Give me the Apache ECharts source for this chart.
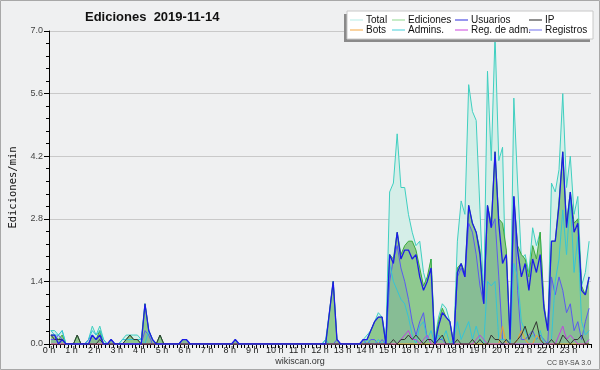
<!DOCTYPE html>
<html><head><meta charset="utf-8">
<script src="https://cdn.jsdelivr.net/npm/echarts@6/dist/echarts.min.js"></script>
<style>html,body{margin:0;padding:0;background:#eff0f1}#c{width:600px;height:370px}</style>
</head><body><div id="c"></div>
<script>
// 10-minute bins, 144 per day (values in ediciones/min)
const seriesNames = ['Total','Ediciones','Usuarios','IP','Bots','Admins.','Reg. de adm.','Registros'];
const yTicks = [0, 1.4, 2.8, 4.2, 5.6, 7.0];
const hourLabels = ['0 h','1 h','2 h','3 h','4 h','5 h','6 h','7 h','8 h','9 h','10 h','11 h','12 h','13 h','14 h','15 h','16 h','17 h','18 h','19 h','20 h','21 h','22 h','23 h'];

const total = [
0.3,0.3,0.2,0.3,0,0,0,0.2,0,0,0.1,0.4,
0.2,0.4,0.1,0,0.1,0,0,0.1,0.2,0.2,0.2,0.2,
0.1,0.9,0.3,0.1,0,0.2,0,0,0,0,0,0.1,
0.1,0,0,0,0,0,0,0,0,0,0,0,
0,0.1,0,0,0,0,0,0,0,0,0,0,
0,0,0,0,0,0,0,0,0,0,0,0,
0,0.1,0.7,1.4,0.1,0,0,0,0,0,0,0.1,
0.2,0.3,0.5,0.7,0.6,0.1,3.4,3.6,4.7,3.5,3.5,2.9,
2.5,2.2,2.3,1.6,1.3,1.9,0.1,0.6,0.9,0.8,0.5,0,
2.3,3.2,2.9,5.8,5.2,5.0,3.0,1.0,6.1,4.1,6.9,4.1,
4.4,0.8,0.1,5.5,3.6,1.9,2.0,1.6,2.6,2.2,2.5,0.8,
0.2,3.6,3.4,3.9,5.6,3.5,4.2,2.9,3.3,1.3,1.6,2.3];

const ediciones = [
0.2,0.2,0.1,0.2,0,0,0,0.2,0,0,0,0.2,
0.1,0.3,0,0,0.1,0,0,0,0.1,0.2,0.1,0.1,
0,0.9,0.3,0.1,0,0.2,0,0,0,0,0,0.1,
0.1,0,0,0,0,0,0,0,0,0,0,0,
0,0.1,0,0,0,0,0,0,0,0,0,0,
0,0,0,0,0,0,0,0,0,0,0,0,
0,0,0.7,1.4,0.1,0,0,0,0,0,0,0.1,
0.1,0.3,0.5,0.6,0.6,0,2.0,1.9,2.5,2.0,2.2,2.3,
2.3,2.1,1.7,1.3,1.5,1.9,0,0.5,0.8,0.6,0.5,0,
1.7,1.8,1.6,3.1,2.7,2.5,2.1,0.9,3.1,2.7,4.3,2.8,
2.7,2.1,0.1,3.3,2.2,2.0,1.9,1.5,2.2,1.9,2.5,0.9,
0.3,2.3,2.3,3.2,4.3,2.7,3.4,2.7,2.8,1.3,1.1,1.5];

const usuarios = [
0.2,0.2,0,0.1,0,0,0,0,0,0,0,0.2,
0.1,0.2,0,0,0.1,0,0,0,0,0,0,0,
0,0.9,0.3,0.1,0,0,0,0,0,0,0,0.1,
0.1,0,0,0,0,0,0,0,0,0,0,0,
0,0.1,0,0,0,0,0,0,0,0,0,0,
0,0,0,0,0,0,0,0,0,0,0,0,
0,0,0.7,1.4,0.1,0,0,0,0,0,0,0.1,
0.1,0.3,0.5,0.6,0.6,0,2.0,1.8,2.5,1.9,2.1,2.1,
1.9,2.0,1.5,1.2,1.4,1.7,0,0.4,0.7,0.6,0.5,0,
1.6,1.8,1.5,3.1,2.7,2.5,2.0,0.9,3.1,2.6,4.3,2.7,
1.8,2.0,0.1,3.3,2.1,1.5,1.8,1.2,1.9,1.6,2.0,0.8,
0.3,2.3,2.3,3.1,4.3,2.6,3.4,2.5,2.7,1.2,1.1,1.5];

const ip = [
0.2,0.1,0.1,0.1,0,0,0,0.2,0,0,0,0,
0,0.1,0,0,0,0,0,0,0.1,0.2,0.1,0.1,
0,0,0,0,0,0.2,0,0,0,0,0,0,
0,0,0,0,0,0,0,0,0,0,0,0,
0,0,0,0,0,0,0,0,0,0,0,0,
0,0,0,0,0,0,0,0,0,0,0,0,
0,0,0,0,0,0,0,0,0,0,0,0,
0,0,0,0,0,0,0,0.1,0,0.1,0.1,0.2,
0.1,0.2,0.1,0,0.1,0.1,0,0.1,0.2,0,0,0,
0.1,0,0,0,0.1,0,0.1,0,0,0.2,0.1,0.1,
0,0.1,0,0,0.1,0.2,0.4,0.1,0.3,0.5,0.1,0,
0,0.1,0,0,0.2,0.1,0,0.1,0.1,0.2,0,0];

const bots = [
0,0,0,0,0,0,0,0,0,0,0,0,
0,0,0,0,0,0,0,0,0,0,0,0,
0,0,0,0,0,0,0,0,0,0,0,0,
0,0,0,0,0,0,0,0,0,0,0,0,
0,0,0,0,0,0,0,0,0,0,0,0,
0,0,0,0,0,0,0,0,0,0,0,0,
0,0,0,0,0,0,0,0,0,0,0,0,
0,0,0,0,0,0,0,0,0,0,0,0,
0,0,0,0,0,0,0,0,0,0,0,0,
0,0,0,0,0,0,0,0,0,0,0,0,
0.4,0,0,0,0.1,0.3,0.1,0,0,0.2,0.1,0,
0,0,0,0,0,0,0,0,0,0,0,0];

const admins = [
0.3,0.2,0.2,0.3,0,0,0,0,0,0,0.1,0.3,
0.2,0.3,0.1,0,0,0,0,0.1,0.1,0.1,0.1,0.1,
0.1,0,0.3,0.1,0,0,0,0,0,0,0,0,
0,0,0,0,0,0,0,0,0,0,0,0,
0,0,0,0,0,0,0,0,0,0,0,0,
0,0,0,0,0,0,0,0,0,0,0,0,
0,0.1,0,0,0,0,0,0,0,0,0,0,
0.1,0,0,0.1,0,0.1,1.8,1.4,1.2,1.0,0.9,0.6,
0.2,0,0.4,0.5,0.1,0.3,0,0.2,0.1,0.3,0,0.1,
0.5,0.1,0.3,0.5,0.1,0.4,0.1,0,1.4,1.3,1.4,0.1,
0.1,0.1,0,1.8,1.5,0.5,0.3,0.1,0.2,0.1,0.3,0,
0,0.1,1.4,1.9,3.0,2.0,3.3,1.6,2.4,0.5,0.2,0.3];

const regAdm = [
0,0,0,0,0,0,0,0,0,0,0,0,
0,0,0,0,0,0,0,0,0,0,0,0,
0,0,0,0,0,0,0,0,0,0,0,0,
0,0,0,0,0,0,0,0,0,0,0,0,
0,0,0,0,0,0,0,0,0,0,0,0,
0,0,0,0,0,0,0,0,0,0,0,0,
0,0,0,0,0,0,0,0,0,0,0,0,
0,0,0,0,0,0,0,0,0,0.1,0.2,0.3,
0.1,0.1,0,0.1,0.2,0,0,0,0,0,0,0,
0,0,0,0,0,0.1,0.2,0.1,0,0,0,0,
0,0,0,0,0,0,0,0,0,0,0,0,
0,0,0,0.2,0.4,0.1,0.2,0.1,0,0,0,0.1];

const registros = [
0.1,0.1,0.2,0.1,0,0,0,0,0,0,0.1,0.2,
0.1,0.2,0,0,0.1,0,0,0,0,0,0,0,
0,0.3,0.2,0,0,0,0,0,0,0,0,0.1,
0.1,0,0,0,0,0,0,0,0,0,0,0,
0,0.1,0,0,0,0,0,0,0,0,0,0,
0,0,0,0,0,0,0,0,0,0,0,0,
0,0,0,0,0.1,0,0,0,0,0,0,0.1,
0,0.1,0.1,0,0.1,0,1.4,1.9,2.2,1.7,1.4,1.0,
0.5,0.2,0.5,0.7,0.1,0.1,0,0.1,0.1,0,0,0,
1.5,1.7,1.5,2.7,2.5,2.0,1.3,0.9,3.0,2.6,2.8,1.5,
0.1,0.1,0,3.3,1.2,0.1,0.1,0.2,0.3,0.1,0.2,0.1,
0,1.5,1.1,1.5,1.2,0.7,0.9,0.3,0.5,0.1,0.5,0.8];

const BIN = 6; // bins per hour
const pts = arr => arr.map((v, i) => [(i + 0.5) / BIN, v]);

const colors = {
  'Total': {line:'#3fcfc0', legend:'#b4ece6'},
  'Ediciones': {line:'#3caa3c', legend:'#8fd88f'},
  'Usuarios': {line:'#1c1ce6', legend:'#2c2cdc'},
  'IP': {line:'#333333', legend:'#222222'},
  'Bots': {line:'#f0a030', legend:'#f4a640'},
  'Admins.': {line:'#35c4d6', legend:'#44cfd8'},
  'Reg. de adm.': {line:'#c040e0', legend:'#cc44dd'},
  'Registros': {line:'#5a5af0', legend:'#6f6fee'}
};

function mk(name, data, extra) {
  return Object.assign({
    name, type:'line', data: pts(data), symbol:'none', animation:false,
    lineStyle:{color: colors[name].line, width:1},
    itemStyle:{color: colors[name].legend},
    emphasis:{disabled:true}
  }, extra || {});
}

const legendCols = [['Total','Bots'],['Ediciones','Admins.'],['Usuarios','Reg. de adm.'],['IP','Registros']];
const legendLeft = [350, 392, 455, 529];

const chart = echarts.init(document.getElementById('c'), null, {renderer:'canvas'});
chart.setOption({
  backgroundColor:'#eff0f1',
  animation:false,
  title:{text:'Ediciones  2019-11-14', left:85, top:11, padding:0,
    textStyle:{fontFamily:'Liberation Sans', fontSize:13, fontWeight:'bold', color:'#111'}},
  graphic:[
    {type:'rect', shape:{x:0.5,y:0.5,width:599,height:369}, style:{fill:'none', stroke:'#a8a8a8', lineWidth:1}, z:-10},
    {type:'rect', shape:{x:344,y:14,width:246,height:28}, style:{fill:'#8a8a8a'}, z:5},
    {type:'rect', shape:{x:347,y:11,width:246,height:28}, style:{fill:'#ffffff', stroke:'#c8c8c8', lineWidth:1}, z:6},
    {type:'text', left:'center', top:357, style:{text:'wikiscan.org', font:'9px "Liberation Sans"', fill:'#333'}, z:6},
    {type:'text', left:547, top:360, style:{text:'CC BY-SA 3.0', font:'7px "Liberation Sans"', fill:'#444'}, z:6}
  ],
  legend: legendCols.map((col, k) => ({
    orient:'vertical', left: legendLeft[k], top: 12, itemGap: 0, padding:[3,0,0,0],
    itemWidth: 13, itemHeight: 1, icon:'rect', selectedMode:false, z: 10,
    textStyle:{fontFamily:'Liberation Sans', fontSize:10, color:'#111', lineHeight:10, padding:[0,0,0,-2]},
    data: col.map(n => ({name:n, itemStyle:{color: colors[n].legend}}))
  })),
  grid:{left:44, right:9, top:31, bottom:26, containLabel:false},
  xAxis:{type:'value', min:0, max:24, interval:1,
    axisLine:{show:true, onZero:false, lineStyle:{color:'#000', width:1}},
    axisTick:{show:true, length:4, lineStyle:{color:'#000'}},
    minorTick:{show:true, splitNumber:6, length:4, lineStyle:{color:'#000'}},
    splitLine:{show:false},
    axisLabel:{margin:2, fontSize:9, fontFamily:'Liberation Sans', color:'#222',
      formatter: v => (v < 24 ? hourLabels[v] : '')}
  },
  yAxis:{type:'value', min:0, max:7, interval:1.4,
    name:'Ediciones/min', nameLocation:'middle', nameGap:30, nameRotate:90,
    nameTextStyle:{fontFamily:'DejaVu Sans Mono', fontSize:10.5, color:'#111'},
    axisLine:{show:true, lineStyle:{color:'#000', width:1}},
    axisTick:{show:true, length:5, lineStyle:{color:'#000'}},
    minorTick:{show:true, splitNumber:5, length:3, lineStyle:{color:'#000'}},
    splitLine:{show:true, lineStyle:{color:'#c9c9c9', width:1}},
    axisLabel:{margin:6, fontSize:9, fontFamily:'Liberation Sans', color:'#444',
      formatter: v => { const t = yTicks.find(x => Math.abs(x - v) < 1e-6); return (t === undefined ? v : t).toFixed(1); }}
  },
  series:[
    mk('Total', total, {areaStyle:{color:'#d5eee8', opacity:1}, z:1}),
    mk('Ediciones', ediciones, {areaStyle:{color:'#8fc98f', opacity:1}, z:2}),
    mk('Registros', registros, {areaStyle:{color:'rgba(60,80,210,0.13)'}, z:3}),
    mk('Admins.', admins, {z:3}),
    mk('Bots', bots, {z:3}),
    mk('Reg. de adm.', regAdm, {z:3}),
    mk('IP', ip, {z:4}),
    mk('Usuarios', usuarios, {lineStyle:{color:'#1c1ce6', width:1.3}, z:5})
  ]
});
</script></body></html>
